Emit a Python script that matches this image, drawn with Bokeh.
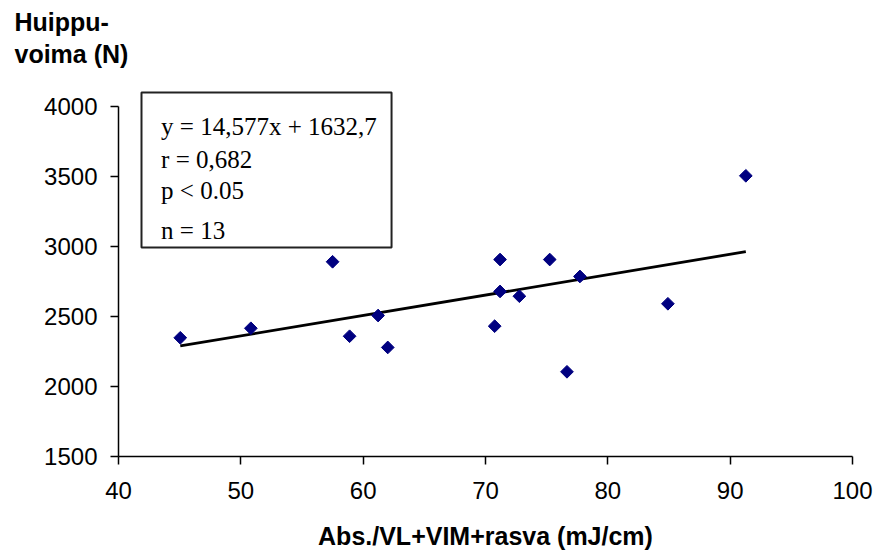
import math
from bokeh.plotting import figure
from bokeh.models import Range1d, FixedTicker, ColumnDataSource, Title
from bokeh.core.properties import value
from bokeh.embed import file_html
from bokeh.resources import INLINE

# ---- data ----
energy = [45.05, 50.82, 57.50, 58.89, 61.22, 62.01, 70.75, 71.19, 71.19,
          72.77, 75.25, 76.66, 77.72, 84.91, 91.28]
force = [2348, 2416, 2891, 2359, 2507, 2279, 2431, 2907, 2679,
         2645, 2907, 2105, 2786, 2591, 3505]
slope = 14.577
intercept = 1632.7
stats_lines = ["y = 14,577x + 1632,7", "r = 0,682", "p < 0.05", "n = 13"]
x_ticks = [40, 50, 60, 70, 80, 90, 100]
y_ticks = [1500, 2000, 2500, 3000, 3500, 4000]
x_title = "Abs./VL+VIM+rasva (mJ/cm)"
y_title = ["Huippu-", "voima (N)"]

SANS = "Liberation Sans"
SERIF = "Liberation Serif"

p = figure(frame_width=734, frame_height=368,
           min_border_left=118, min_border_right=24,
           min_border_top=88, min_border_bottom=98,
           x_range=Range1d(40, 100), y_range=Range1d(1500, 4128.6),
           output_backend="svg", toolbar_location=None)
p.outline_line_color = None
p.xgrid.visible = False
p.ygrid.visible = False
p.background_fill_color = "white"
p.border_fill_color = "white"

for ax in (p.xaxis[0], p.yaxis[0]):
    ax.axis_line_color = "black"
    ax.axis_line_width = 1.5
    ax.major_tick_line_color = "black"
    ax.major_tick_line_width = 1.5
    ax.major_tick_in = 0
    ax.major_tick_out = 8
    ax.minor_tick_line_color = None
    ax.major_label_text_font = SANS
    ax.major_label_text_font_size = "24px"
    ax.major_label_text_color = "black"

p.xaxis[0].ticker = FixedTicker(ticks=x_ticks)
p.yaxis[0].ticker = FixedTicker(ticks=y_ticks)
p.yaxis[0].bounds = (y_ticks[0], y_ticks[-1])
p.xaxis[0].major_label_standoff = 17
p.yaxis[0].major_label_standoff = 13

p.xaxis[0].axis_label = x_title
p.xaxis[0].axis_label_text_font = SANS
p.xaxis[0].axis_label_text_font_size = "25px"
p.xaxis[0].axis_label_text_font_style = "bold"
p.xaxis[0].axis_label_text_color = "black"
p.xaxis[0].axis_label_standoff = 20

# y title at the top-left corner: outermost title + stacked panels
p.title.text = y_title[0]
p.title.align = "left"
p.title.offset = -104
p.title.standoff = 2
p.title.text_font = SANS
p.title.text_font_size = "25px"
p.title.text_font_style = "bold"
p.title.text_color = "black"
# small blank spacer nearest the plot frame
p.add_layout(Title(text=" ", text_font=SANS, text_font_size="10px",
                   standoff=7), "above")
p.add_layout(Title(text=y_title[1], align="left", offset=-104, standoff=2,
                   text_font=SANS, text_font_size="25px",
                   text_font_style="bold", text_color="black"), "above")

# stats box
p.quad(left=[41.88], right=[62.32], top=[4100], bottom=[2993],
       fill_color="white", line_color="#222222", line_width=2)
text_y = [3855, 3624, 3398, 3112]
p.text(x=[43.48] * len(stats_lines), y=text_y, text=stats_lines,
       text_font=value(SERIF), text_font_size="25px", text_color="black",
       text_align="left", text_baseline="alphabetic")

# trend line from regression equation
xmin, xmax = min(energy), max(energy)
p.line([xmin, xmax], [slope * xmin + intercept, slope * xmax + intercept],
       line_color="black", line_width=2.8)

# data points (diamonds)
src = ColumnDataSource(dict(x=energy, y=force))
p.scatter("x", "y", source=src, marker="square", size=9, angle=math.pi / 4,
          fill_color="#000080", line_color="#000080")

open("out.html", "w").write(file_html(p, INLINE))
